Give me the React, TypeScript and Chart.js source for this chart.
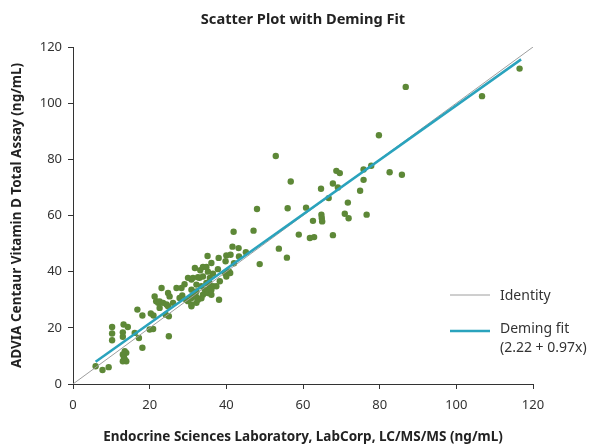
import React, { useEffect, useRef } from "react";
import { Chart, registerables } from "chart.js";

Chart.register(...registerables);

const chartTitle = "Scatter Plot with Deming Fit";
const xAxisTitle = "Endocrine Sciences Laboratory, LabCorp, LC/MS/MS (ng/mL)";
const yAxisTitle = "ADVIA Centaur Vitamin D Total Assay (ng/mL)";

const xTicks = [0, 20, 40, 60, 80, 100, 120];
const yTicks = [0, 20, 40, 60, 80, 100, 120];

// Sample measurements (x: LC/MS/MS, y: ADVIA Centaur)
const sampleX = [
  5.9, 7.7, 9.3, 10.2, 10.2, 10.2, 13.2, 14.3, 13.0, 13.0, 16.1, 17.2,
  13.5, 13.9, 13.0, 13.5, 13.9, 13.0, 13.3, 18.1, 16.8, 18.1, 20.3, 21.0,
  20.0, 20.9, 25.0, 24.2, 25.0,
  21.3, 21.7, 22.2, 22.6, 23.5, 22.6, 23.1, 24.8, 25.2, 26.1, 24.4, 24.8,
  27.0, 28.3, 29.1, 27.8, 28.5, 29.5, 30.0, 30.0, 30.9, 31.8, 33.2, 32.6,
  30.9, 30.9, 30.9, 32.2, 32.6, 31.5, 31.3, 33.0, 33.9, 35.7, 36.5, 35.2,
  32.2, 33.5, 34.8, 35.5, 30.9, 32.2, 34.4, 35.7, 36.5, 37.4, 33.9, 35.2,
  36.1, 36.1, 32.2, 33.5, 38.1, 38.3, 39.6, 40.7, 40.0, 41.0, 37.8, 33.9,
  34.8, 35.1, 38.0, 40.0, 41.1, 36.1, 39.8, 43.3, 42.0, 41.6, 43.2, 45.1,
  41.9, 47.1, 53.7, 55.8, 48.7, 48.0,
  52.9, 56.8, 56.0, 60.8, 58.9, 61.8, 62.9, 62.6, 64.8, 64.9, 65.0, 66.7,
  64.7, 67.8, 69.1, 68.7, 69.6, 67.8, 70.9, 71.9, 71.7, 74.9, 75.8, 75.8,
  77.8, 76.6, 82.6, 85.8, 79.8, 86.8, 106.7, 116.5,
];
const sampleY = [
  6.3, 5.0, 6.0, 20.3, 18.0, 15.6, 21.2, 20.3, 18.4, 16.8, 18.2, 16.4,
  11.7, 11.1, 10.5, 8.7, 8.1, 8.1, 9.5, 12.9, 26.5, 24.4, 25.1, 24.4,
  19.4, 19.6, 17.0, 24.7, 24.1,
  31.2, 29.5, 28.9, 29.4, 28.9, 27.1, 34.2, 32.4, 31.2, 28.9, 28.3, 27.7,
  34.2, 34.2, 35.5, 30.6, 31.5, 30.0, 29.5, 37.8, 37.2, 41.3, 40.5, 38.0,
  30.6, 28.3, 27.7, 28.9, 30.0, 32.0, 37.8, 37.8, 38.3, 37.8, 39.3, 40.0,
  35.4, 34.8, 36.0, 36.2, 33.6, 33.0, 33.6, 34.2, 34.8, 34.8, 31.8, 32.4,
  31.8, 33.6, 31.0, 30.5, 30.0, 36.6, 39.5, 40.1, 38.3, 39.5, 40.9, 41.7,
  41.7, 45.6, 44.9, 45.8, 46.0, 43.1, 43.7, 45.4, 43.0, 48.9, 48.4, 46.9,
  54.2, 54.6, 48.2, 45.0, 42.7, 62.3,
  81.2, 72.1, 62.6, 62.8, 53.2, 52.0, 52.3, 58.1, 60.3, 59.1, 57.9, 66.2,
  69.5, 71.4, 70.0, 75.9, 75.1, 53.0, 60.6, 59.0, 64.6, 68.8, 72.7, 76.4,
  77.7, 60.3, 75.4, 74.5, 88.6, 105.8, 102.5, 112.3,
];

const identityX = [0, 120];
const identityY = [0, 120];
const demingX = [5.9, 116.9];
const demingY = [7.9, 115.6];

const legendLabels = ["Identity", "Deming fit"];
const legendSubLabel = "(2.22 + 0.97x)";

const FONT = "'Noto Sans', sans-serif";
const TEXT = "#333333";
const POINT_COLOR = "#5d8837";
const DEMING_COLOR = "#2aa3bd";
const IDENTITY_COLOR = "#9e9e9e";

const centeredTitle = {
  id: "centeredTitle",
  afterDraw(chart: any) {
    const { ctx, chartArea } = chart;
    ctx.save();
    ctx.font = `bold 14.6px ${FONT}`;
    ctx.fillStyle = "#222222";
    ctx.textAlign = "center";
    ctx.textBaseline = "middle";
    ctx.fillText(chartTitle, (chartArea.left + chartArea.right) / 2, 20);
    ctx.restore();
  },
};

const insideLegend = {
  id: "insideLegend",
  afterDraw(chart: any) {
    const { ctx, chartArea } = chart;
    const x0 = chartArea.right - 83;
    const lineLen = 40;
    const textX = x0 + 50;
    const rows = [
      { y: chartArea.top + 248, color: IDENTITY_COLOR, width: 1, label: legendLabels[0] },
      { y: chartArea.top + 284, color: DEMING_COLOR, width: 2.5, label: legendLabels[1] },
    ];
    ctx.save();
    ctx.font = `14px ${FONT}`;
    ctx.fillStyle = TEXT;
    ctx.textBaseline = "middle";
    ctx.textAlign = "left";
    rows.forEach((r, i) => {
      ctx.beginPath();
      ctx.strokeStyle = r.color;
      ctx.lineWidth = r.width;
      ctx.moveTo(x0, r.y);
      ctx.lineTo(x0 + lineLen, r.y);
      ctx.stroke();
      ctx.fillText(r.label, textX, r.y + (i === 0 ? 1 : -2));
    });
    ctx.fillText(legendSubLabel, textX, rows[1].y + 17);
    ctx.restore();
  },
};

export default function App() {
  const ref = useRef<HTMLCanvasElement | null>(null);

  useEffect(() => {
    if (!ref.current) return;
    const points = sampleX.map((x, i) => ({ x, y: sampleY[i] }));
    const identity = identityX.map((x, i) => ({ x, y: identityY[i] }));
    const deming = demingX.map((x, i) => ({ x, y: demingY[i] }));

    const chart = new Chart(ref.current, {
      type: "scatter",
      data: {
        datasets: [
          {
            label: legendLabels[1],
            data: deming,
            showLine: true,
            borderColor: DEMING_COLOR,
            borderWidth: 2.5,
            pointRadius: 0,
            fill: false,
          } as any,
          {
            label: legendLabels[0],
            data: identity,
            showLine: true,
            borderColor: IDENTITY_COLOR,
            borderWidth: 1,
            pointRadius: 0,
            fill: false,
          } as any,
          {
            label: "Samples",
            data: points,
            backgroundColor: POINT_COLOR,
            borderColor: POINT_COLOR,
            borderWidth: 0,
            pointRadius: 3.2,
          },
        ],
      },
      options: {
        responsive: false,
        animation: false,
        layout: { padding: { left: 0, right: 62, top: 47, bottom: 0 } },
        plugins: {
          legend: { display: false },
          tooltip: { enabled: false },
          title: { display: false },
        },
        scales: {
          x: {
            type: "linear",
            min: 0,
            max: 120,
            afterBuildTicks: (scale: any) => {
              scale.ticks = xTicks.map((v) => ({ value: v }));
            },
            afterFit: (scale: any) => {
              scale.height = 62;
            },
            ticks: {
              color: TEXT,
              font: { family: FONT, size: 13 },
              padding: 8,
              maxRotation: 0,
            },
            grid: {
              display: true,
              drawOnChartArea: false,
              drawTicks: true,
              tickLength: 5,
              color: "#333333",
            },
            border: { display: true, color: "#333333", width: 1 },
            title: {
              display: true,
              text: xAxisTitle,
              color: "#222222",
              font: { family: FONT, size: 13.5, weight: "bold" },
              padding: { top: 0, bottom: 1 },
            },
          },
          y: {
            type: "linear",
            min: 0,
            max: 120,
            afterBuildTicks: (scale: any) => {
              scale.ticks = yTicks.map((v) => ({ value: v }));
            },
            afterFit: (scale: any) => {
              scale.width = 73;
            },
            ticks: {
              color: TEXT,
              font: { family: FONT, size: 13 },
              padding: 6,
            },
            grid: {
              display: true,
              drawOnChartArea: false,
              drawTicks: true,
              tickLength: 5,
              color: "#333333",
            },
            border: { display: true, color: "#333333", width: 1 },
            title: {
              display: true,
              text: yAxisTitle,
              color: "#222222",
              font: { family: FONT, size: 13.5, weight: "bold" },
              padding: { top: 9, bottom: 0 },
            },
          },
        },
      },
      plugins: [centeredTitle, insideLegend],
    });
    return () => chart.destroy();
  }, []);

  return (
    <div style={{ position: "absolute", left: 0, top: 0, width: 595, height: 446, background: "#fff" }}>
      <canvas ref={ref} width={595} height={446} style={{ display: "block" }} />
    </div>
  );
}
